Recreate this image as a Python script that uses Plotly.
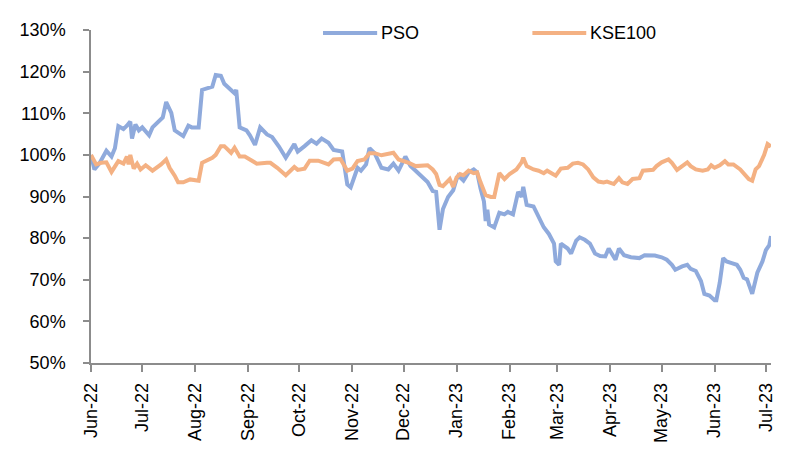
import plotly.graph_objects as go

# ---------------- data ----------------
pso_dates = [
    "2022-06-01", "2022-06-03", "2022-06-06", "2022-06-10", "2022-06-13", "2022-06-15",
    "2022-06-17", "2022-06-20", "2022-06-22", "2022-06-24", "2022-06-25", "2022-06-27",
    "2022-06-29", "2022-07-01", "2022-07-05", "2022-07-07", "2022-07-13", "2022-07-15",
    "2022-07-18", "2022-07-20", "2022-07-25", "2022-07-28", "2022-07-30", "2022-08-03",
    "2022-08-05", "2022-08-11", "2022-08-13", "2022-08-16", "2022-08-18", "2022-08-20",
    "2022-08-24", "2022-08-25", "2022-08-27", "2022-08-31", "2022-09-02", "2022-09-05",
    "2022-09-08", "2022-09-12", "2022-09-15", "2022-09-19", "2022-09-23", "2022-09-28",
    "2022-09-30", "2022-10-04", "2022-10-08", "2022-10-11", "2022-10-14", "2022-10-18",
    "2022-10-21", "2022-10-26", "2022-10-29", "2022-10-31", "2022-11-04", "2022-11-06",
    "2022-11-09", "2022-11-11", "2022-11-14", "2022-11-18", "2022-11-22", "2022-11-25",
    "2022-11-28", "2022-12-02", "2022-12-05", "2022-12-08", "2022-12-12", "2022-12-15",
    "2022-12-18", "2022-12-20", "2022-12-22", "2022-12-24", "2022-12-27", "2022-12-30",
    "2023-01-01", "2023-01-02", "2023-01-05", "2023-01-08", "2023-01-11", "2023-01-13",
    "2023-01-15", "2023-01-17", "2023-01-18", "2023-01-19", "2023-01-20", "2023-01-23",
    "2023-01-26", "2023-01-29", "2023-01-31", "2023-02-03", "2023-02-06", "2023-02-08",
    "2023-02-09", "2023-02-11", "2023-02-15", "2023-02-18", "2023-02-21", "2023-02-24",
    "2023-02-27", "2023-02-28", "2023-03-02", "2023-03-03", "2023-03-07", "2023-03-09",
    "2023-03-12", "2023-03-14", "2023-03-17", "2023-03-20", "2023-03-23", "2023-03-26",
    "2023-03-29", "2023-03-31", "2023-04-02", "2023-04-04", "2023-04-06", "2023-04-09",
    "2023-04-13", "2023-04-18", "2023-04-21", "2023-04-27", "2023-05-01", "2023-05-04",
    "2023-05-07", "2023-05-09", "2023-05-13", "2023-05-16", "2023-05-18", "2023-05-21",
    "2023-05-24", "2023-05-26", "2023-05-29", "2023-06-01", "2023-06-02", "2023-06-04",
    "2023-06-06", "2023-06-08", "2023-06-11", "2023-06-14", "2023-06-16", "2023-06-18",
    "2023-06-20", "2023-06-22", "2023-06-23", "2023-06-26", "2023-06-29", "2023-07-01",
    "2023-07-03", "2023-07-04",
]
pso_values = [
    100.0, 96.5, 98.0, 101.0, 99.6, 101.6,
    106.9, 106.2, 107.0, 108.0, 103.9, 107.3,
    105.9, 106.6, 104.7, 106.6, 109.0, 112.7,
    110.1, 105.9, 104.5, 107.0, 106.6, 106.6,
    115.6, 116.4, 119.2, 119.0, 117.1, 116.4,
    114.8, 115.6, 106.6, 105.9, 104.7, 102.4,
    106.6, 104.9, 104.3, 102.0, 99.3, 102.6,
    100.8, 102.1, 103.5, 102.7, 103.9, 102.9,
    101.2, 100.8, 92.9, 92.2, 96.9, 96.2,
    97.7, 101.6, 100.4, 96.9, 96.5, 97.9,
    96.2, 99.6, 97.3, 96.2, 94.6, 93.5,
    91.3, 91.1, 82.0, 87.0, 89.9, 91.5,
    94.2, 95.0, 93.8, 95.8, 96.5, 95.8,
    91.9, 88.8, 84.1, 86.8, 83.3, 82.6,
    86.1, 85.7, 86.3, 85.7, 91.1, 89.9,
    92.3, 88.0, 87.6, 84.9, 82.6, 81.0,
    78.7, 74.4, 73.6, 78.7, 77.5, 76.3,
    79.4, 80.2, 79.6, 78.7, 76.3, 75.7,
    75.6, 77.5, 76.3, 74.8, 77.5, 75.9,
    75.4, 75.2, 75.9, 75.8, 75.4, 74.8,
    73.6, 72.4, 73.2, 73.6, 72.6, 72.1,
    69.7, 66.6, 66.2, 65.1, 65.1, 69.3,
    75.2, 74.4, 74.0, 73.6, 72.4, 70.5,
    70.1, 67.4, 66.6, 71.7, 74.4, 77.1,
    78.3, 80.5,
]

kse_dates = [
    "2022-06-01", "2022-06-04", "2022-06-07", "2022-06-10", "2022-06-13", "2022-06-17",
    "2022-06-20", "2022-06-22", "2022-06-23", "2022-06-24", "2022-06-26", "2022-06-28",
    "2022-06-30", "2022-07-03", "2022-07-07", "2022-07-12", "2022-07-15", "2022-07-17",
    "2022-07-20", "2022-07-22", "2022-07-25", "2022-07-29", "2022-08-03", "2022-08-05",
    "2022-08-11", "2022-08-13", "2022-08-16", "2022-08-18", "2022-08-22", "2022-08-24",
    "2022-08-27", "2022-08-30", "2022-09-02", "2022-09-06", "2022-09-12", "2022-09-14",
    "2022-09-18", "2022-09-23", "2022-09-28", "2022-09-30", "2022-10-04", "2022-10-07",
    "2022-10-12", "2022-10-18", "2022-10-21", "2022-10-25", "2022-10-29", "2022-11-01",
    "2022-11-04", "2022-11-08", "2022-11-11", "2022-11-14", "2022-11-18", "2022-11-25",
    "2022-11-28", "2022-12-04", "2022-12-08", "2022-12-15", "2022-12-18", "2022-12-20",
    "2022-12-22", "2022-12-24", "2022-12-28", "2022-12-30", "2023-01-01", "2023-01-03",
    "2023-01-05", "2023-01-08", "2023-01-11", "2023-01-13", "2023-01-15", "2023-01-18",
    "2023-01-21", "2023-01-23", "2023-01-26", "2023-01-29", "2023-02-01", "2023-02-05",
    "2023-02-08", "2023-02-09", "2023-02-11", "2023-02-15", "2023-02-18", "2023-02-21",
    "2023-02-23", "2023-02-26", "2023-02-28", "2023-03-03", "2023-03-07", "2023-03-10",
    "2023-03-13", "2023-03-16", "2023-03-19", "2023-03-22", "2023-03-25", "2023-03-28",
    "2023-03-30", "2023-04-03", "2023-04-06", "2023-04-08", "2023-04-11", "2023-04-14",
    "2023-04-18", "2023-04-20", "2023-04-26", "2023-04-28", "2023-05-01", "2023-05-05",
    "2023-05-07", "2023-05-10", "2023-05-13", "2023-05-16", "2023-05-18", "2023-05-21",
    "2023-05-25", "2023-05-28", "2023-05-30", "2023-06-01", "2023-06-04", "2023-06-07",
    "2023-06-09", "2023-06-12", "2023-06-16", "2023-06-19", "2023-06-21", "2023-06-23",
    "2023-06-25", "2023-06-27", "2023-06-30", "2023-07-02", "2023-07-04",
]
kse_values = [
    100.0, 97.7, 98.1, 98.2, 95.9, 98.5,
    97.9, 99.6, 97.7, 100.0, 96.7, 97.9,
    96.5, 97.5, 96.2, 97.7, 98.9, 96.9,
    95.0, 93.4, 93.4, 94.1, 93.8, 98.1,
    99.3, 100.0, 102.1, 102.1, 100.5, 101.7,
    99.6, 99.6, 98.9, 97.9, 98.1, 98.1,
    96.9, 95.1, 97.1, 96.4, 96.7, 98.6,
    98.6, 97.7, 98.9, 99.0, 96.2, 96.7,
    98.5, 98.9, 100.4, 100.4, 99.9, 100.5,
    98.9, 98.1, 97.3, 97.5, 96.5, 95.4,
    92.8, 92.5, 94.2, 92.3, 94.6, 95.4,
    95.1, 96.2, 95.6, 95.8, 93.4, 90.3,
    89.9, 89.9, 95.6, 94.2, 95.4, 96.5,
    98.2, 99.3, 97.3, 96.5, 96.2, 95.6,
    96.2, 95.6, 95.0, 96.7, 96.9, 97.9,
    98.1, 97.7, 96.5, 94.6, 93.6, 93.4,
    93.6, 93.0, 94.4, 93.4, 93.0, 94.2,
    94.4, 96.2, 96.4, 97.3, 98.2, 98.9,
    98.1, 96.4, 97.2, 98.2, 97.3, 96.5,
    96.2, 96.5, 97.5, 96.9, 97.5, 98.5,
    97.7, 97.7, 96.5, 95.0, 94.2, 93.8,
    96.5, 97.3, 100.0, 102.6, 102.0,
]

tick_dates = [
    "2022-06-01", "2022-07-01", "2022-08-01", "2022-09-01", "2022-10-01", "2022-11-01",
    "2022-12-01", "2023-01-01", "2023-02-01", "2023-03-01", "2023-04-01", "2023-05-01",
    "2023-06-01", "2023-07-01",
]
tick_labels = [
    "Jun-22", "Jul-22", "Aug-22", "Sep-22", "Oct-22", "Nov-22", "Dec-22",
    "Jan-23", "Feb-23", "Mar-23", "Apr-23", "May-23", "Jun-23", "Jul-23",
]
series_names = ["PSO", "KSE100"]
series_colors = ["#8FAADC", "#F4B183"]

# ---------------- figure ----------------
FONT = "Liberation Sans, Arial, sans-serif"
AXIS_COLOR = "#8C8C8C"

fig = go.Figure()
fig.add_trace(go.Scatter(x=pso_dates, y=pso_values, mode="lines", name=series_names[0],
                         line=dict(color=series_colors[0], width=4), showlegend=False))
fig.add_trace(go.Scatter(x=kse_dates, y=kse_values, mode="lines", name=series_names[1],
                         line=dict(color=series_colors[1], width=4), showlegend=False))

# custom legend (line sample + label) at the top
legend_pos = [(0.3412, 0.4208, 0.4238), (0.6491, 0.7283, 0.7302)]
for (x0, x1, xt), name, col in zip(legend_pos, series_names, series_colors):
    fig.add_shape(type="line", xref="paper", yref="paper", x0=x0, x1=x1, y0=0.991, y1=0.991,
                  line=dict(color=col, width=4))
    fig.add_annotation(xref="paper", yref="paper", x=xt, y=0.991, text=name, showarrow=False,
                       xanchor="left", yanchor="middle", font=dict(size=18, color="#000000", family=FONT))

fig.update_layout(
    width=792, height=449,
    margin=dict(l=81, r=29, t=12, b=94),
    paper_bgcolor="white", plot_bgcolor="white",
    font=dict(family=FONT, size=18, color="#000000"),
    showlegend=False,
)
fig.update_xaxes(
    type="date", range=["2022-06-01", "2023-07-04"],
    tickmode="array", tickvals=tick_dates, ticktext=tick_labels, tickangle=-90,
    showgrid=False, zeroline=False, showline=True, linecolor=AXIS_COLOR, linewidth=1.5,
    ticks="outside", ticklen=7, tickcolor=AXIS_COLOR, tickwidth=1.5,
    tickfont=dict(size=18, family=FONT, color="#000000"), ticklabelstandoff=4,
)
fig.update_yaxes(
    range=[50, 130], dtick=10, tick0=50, ticksuffix="%",
    showgrid=False, zeroline=False, showline=True, linecolor=AXIS_COLOR, linewidth=1.5,
    ticks="outside", ticklen=6, tickcolor=AXIS_COLOR, tickwidth=1.5,
    tickfont=dict(size=18, family=FONT, color="#000000"), ticklabelstandoff=14,
)

fig.write_html("out.html")
